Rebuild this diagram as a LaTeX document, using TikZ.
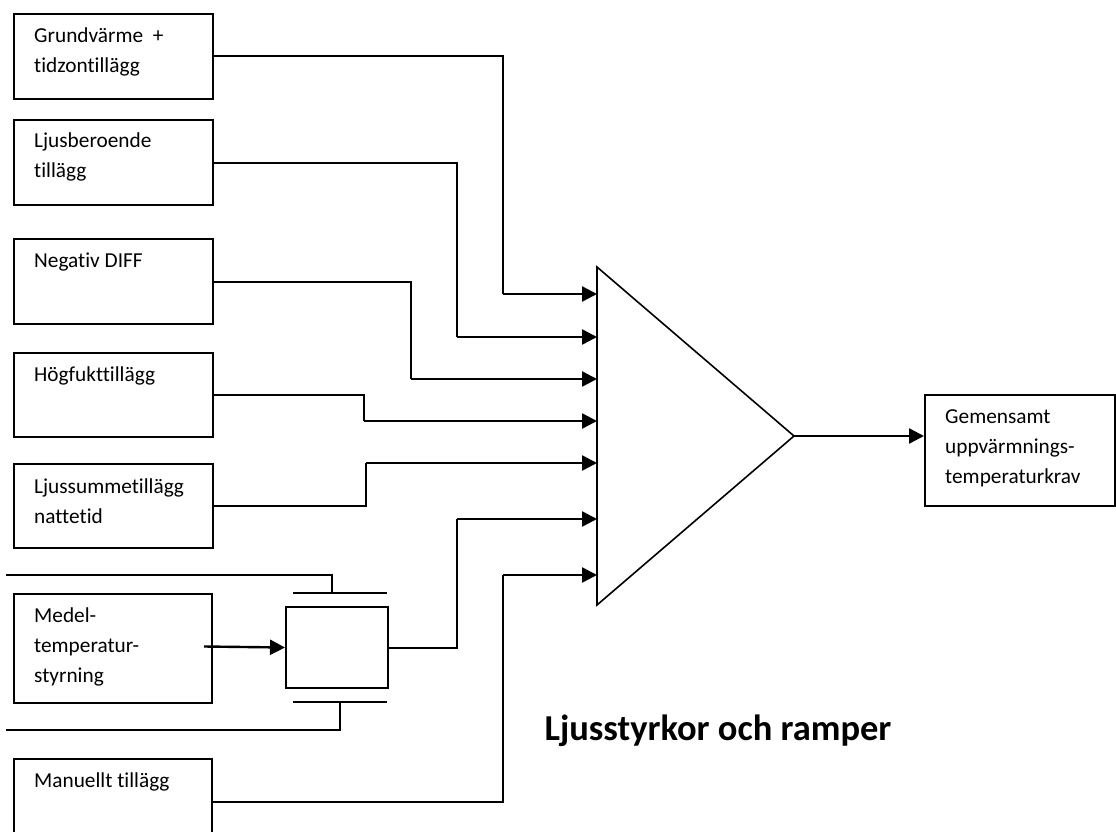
\documentclass[tikz,border=0pt]{standalone}
\usepackage{fontspec}
\setmainfont{Carlito}[Ligatures={NoCommon}]
\usetikzlibrary{arrows.meta,calc}
\begin{document}
\begin{tikzpicture}[x=1pt,y=-1pt,
  box/.style={draw,line width=2pt,anchor=north west,inner sep=0pt},
  lbl/.style={anchor=north west,inner sep=0pt,align=left,font=\fontsize{21.3}{30}\selectfont},
  wire/.style={line width=2pt},
  arr/.style={line width=2.4pt,-{Triangle[length=15pt,width=15pt]}}]
\clip (0,0) rectangle (1116,832);
\useasboundingbox (0,0) rectangle (1116,832);
% input boxes
\node[box,minimum width=199pt,minimum height=85pt] (b1) at (13,13) {};
\node[lbl] (t1) at (34,28) {Grundvärme\ \ +\\tidzontillägg};
\node[box,minimum width=199pt,minimum height=85pt] (b2) at (13,119) {};
\node[lbl] (t2) at (34,133) {Ljusberoende\\tillägg};
\node[box,minimum width=199pt,minimum height=85pt] (b3) at (13,238) {};
\node[lbl] (t3) at (34,253) {Negativ DIFF};
\node[box,minimum width=199pt,minimum height=84pt] (b4) at (13,352) {};
\node[lbl] (t4) at (34,367) {Högfukttillägg};
\node[box,minimum width=199pt,minimum height=84pt] (b5) at (13,463) {};
\node[lbl] (t5) at (34,479) {Ljussummetillägg\\nattetid};
\node[box,minimum width=198pt,minimum height=109pt] (b6) at (13,593) {};
\node[lbl] (t6) at (34,608) {Medel-\\temperatur-\\styrning};
\node[box,minimum width=198pt,minimum height=85pt] (b7) at (13,758) {};
\node[lbl] (t7) at (34,773) {Manuellt tillägg};
% small box with bars
\node[box,minimum width=102pt,minimum height=81pt] (sb) at (285,606) {};
\coordinate (bt1) at (293,593); \coordinate (bt2) at (387,593);
\coordinate (bb1) at (293,702); \coordinate (bb2) at (387,702);
\draw[wire] (bt1) -- (bt2);
\draw[wire] (bb1) -- (bb2);
\coordinate (uw) at (6,575); \coordinate (uc) at (332,593);
\coordinate (lw) at (6,730); \coordinate (lc) at (340,702);
\draw[wire] (uw) -| (uc);
\draw[wire] (lw) -| (lc);
\coordinate (ms) at (204,646.5);
\draw[arr] (ms) -- (sb.west);
% summation triangle
\coordinate (tt) at (597,267);
\coordinate (tb) at (597,605);
\coordinate (apex) at (794,436);
\draw[line width=1.6pt,line join=miter] (tt) -- (tb) -- (apex) -- cycle;
\foreach \i/\y in {1/294,2/337,3/379,4/421,5/463,6/519,7/575}
  \coordinate (in\i) at (597,\y);
% wires into triangle
\coordinate (v1) at (503,294);
\coordinate (v2) at (457,337);
\coordinate (v3) at (411,379);
\coordinate (v4) at (364,421);
\coordinate (v5) at (366,463);
\coordinate (v6) at (457,519);
\coordinate (v7) at (503,575);
\draw[wire] (b1.east) -| (v1);
\draw[arr] (v1) -- (in1);
\draw[wire] (b2.east) -| (v2);
\draw[arr] (v2) -- (in2);
\draw[wire] (b3.east) -| (v3);
\draw[arr] (v3) -- (in3);
\draw[wire] (b4.east) -| (v4);
\draw[arr] (v4) -- (in4);
\draw[wire] (b5.east) -| (v5);
\draw[arr] (v5) -- (in5);
\draw[wire] (sb.east) -| (v6);
\draw[arr] (v6) -- (in6);
\draw[wire] (b7.east) -| (v7);
\draw[arr] (v7) -- (in7);
% output
\node[box,minimum width=190pt,minimum height=111pt] (ob) at (924,394) {};
\node[lbl] (to) at (945,409) {Gemensamt\\uppvärmnings-\\temperaturkrav};
\draw[arr] (apex) -- (apex -| ob.west);
% title
\node[anchor=base,inner sep=0pt,font=\fontsize{36.5}{40}\bfseries\selectfont] (title) at (718,740) {Ljusstyrkor och ramper};
\end{tikzpicture}
\end{document}
